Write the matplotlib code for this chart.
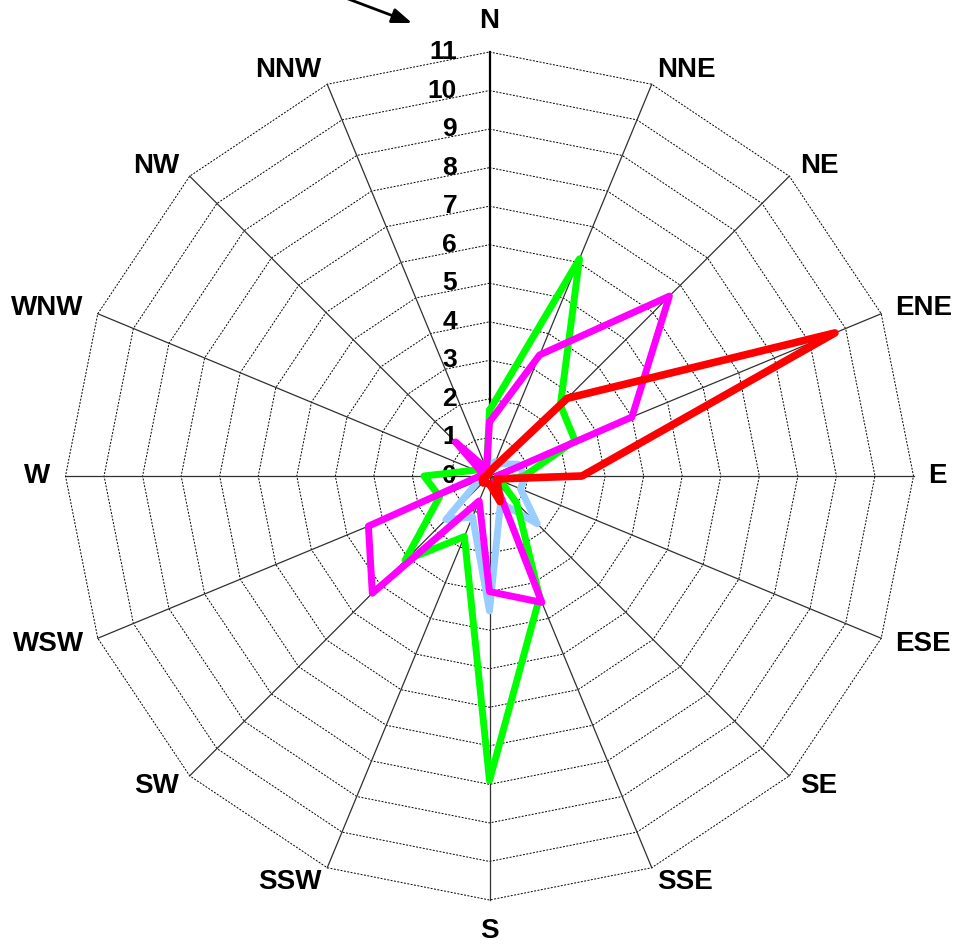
import numpy as np
import matplotlib.pyplot as plt

plt.rcParams['font.family'] = ['Liberation Sans', 'DejaVu Sans']

directions = ['N', 'NNE', 'NE', 'ENE', 'E', 'ESE', 'SE', 'SSE',
              'S', 'SSW', 'SW', 'WSW', 'W', 'WNW', 'NW', 'NNW']
ring_values = list(range(0, 12))

light_blue = [0.3, 0.4, 0.45, 0.8, 0.92, 0.87, 1.75, 0.75,
              3.5, 1.15, 1.6, 0.3, 0.2, 0.1, 0.1, 0.2]
green = [1.7, 6.1, 2.6, 2.4, 0.9, 0.3, 1.0, 3.4,
         7.9, 1.7, 3.1, 1.4, 1.7, 0.4, 0.2, 0.2]
magenta = [1.4, 3.4, 6.6, 4.0, 0.2, 0.3, 0.2, 3.55,
           3.0, 0.7, 4.3, 3.4, 0.25, 0.2, 1.25, 0.2]
red = [0.1, 0.2, 2.85, 9.7, 2.4, 0.2, 0.3, 0.72,
       0.2, 0.2, 0.25, 0.2, 0.1, 0.05, 0.05, 0.05]

# compass angles, clockwise from north
theta = np.deg2rad(np.arange(len(directions)) * 22.5)


def to_xy(r):
    r = np.asarray(r, dtype=float)
    return r * np.sin(theta), r * np.cos(theta)


def closed(a):
    return np.append(a, a[0])


fig = plt.figure(figsize=(9.59, 9.46), dpi=100)
ax = fig.add_axes([0, 0, 1, 1])
unit = 424 / 11  # pixels per unit
ax.set_xlim(-489.5 / unit, (959 - 489.5) / unit)
ax.set_ylim(-(946 - 476) / unit, 476 / unit)
ax.set_aspect('equal')
ax.axis('off')

rmax = ring_values[-1]

# polygon rings
for rv in ring_values[1:]:
    x, y = to_xy(np.full(len(directions), rv))
    ax.plot(closed(x), closed(y), color='black', lw=0.7,
            ls=(0, (2, 1.5)), zorder=1)

# spokes
for i, t in enumerate(theta):
    if i == 0:
        ax.plot([0, 0], [0, rmax], color='black', lw=1.6, zorder=2)
    else:
        ax.plot([0, rmax * np.sin(t)], [0, rmax * np.cos(t)],
                color='#303030', lw=0.9, zorder=1)

# ring labels along the north axis
for rv in ring_values:
    ax.text(-0.84, rv, str(rv), ha='right', va='center',
            fontsize=19, fontweight='bold', zorder=3)

# direction labels, anchored just outside each outer vertex
gap = 15 / unit
for d, t in zip(directions, theta):
    s, c = np.sin(t), np.cos(t)
    ha = 'left' if s > 0.01 else ('right' if s < -0.01 else 'center')
    va = 'center'
    g = gap
    if abs(s) < 0.01:
        va = 'bottom' if c > 0 else 'top'
        g = gap * 1.2
    ax.text((rmax + g) * s, (rmax + g) * c, d, ha=ha, va=va,
            fontsize=20, fontweight='bold')

# series
series = [(light_blue, '#99CCFF', 5), (green, '#00FF00', 5),
          (magenta, '#FF00FF', 5), (red, '#FF0000', 5.5)]
for k, (vals, col, lw) in enumerate(series):
    x, y = to_xy(vals)
    ax.plot(closed(x), closed(y), color=col, lw=lw,
            solid_joinstyle='round', solid_capstyle='round', zorder=4 + k)

# wind arrow
ax.annotate('', xy=((412 - 489.5) / unit, (476 - 23) / unit),
            xytext=((343 - 489.5) / unit, (476 + 3) / unit),
            arrowprops=dict(arrowstyle='-|>,head_length=1.2,head_width=0.45',
                            color='black', lw=2, shrinkA=0, shrinkB=0))

fig.savefig('out.png', dpi=100)
